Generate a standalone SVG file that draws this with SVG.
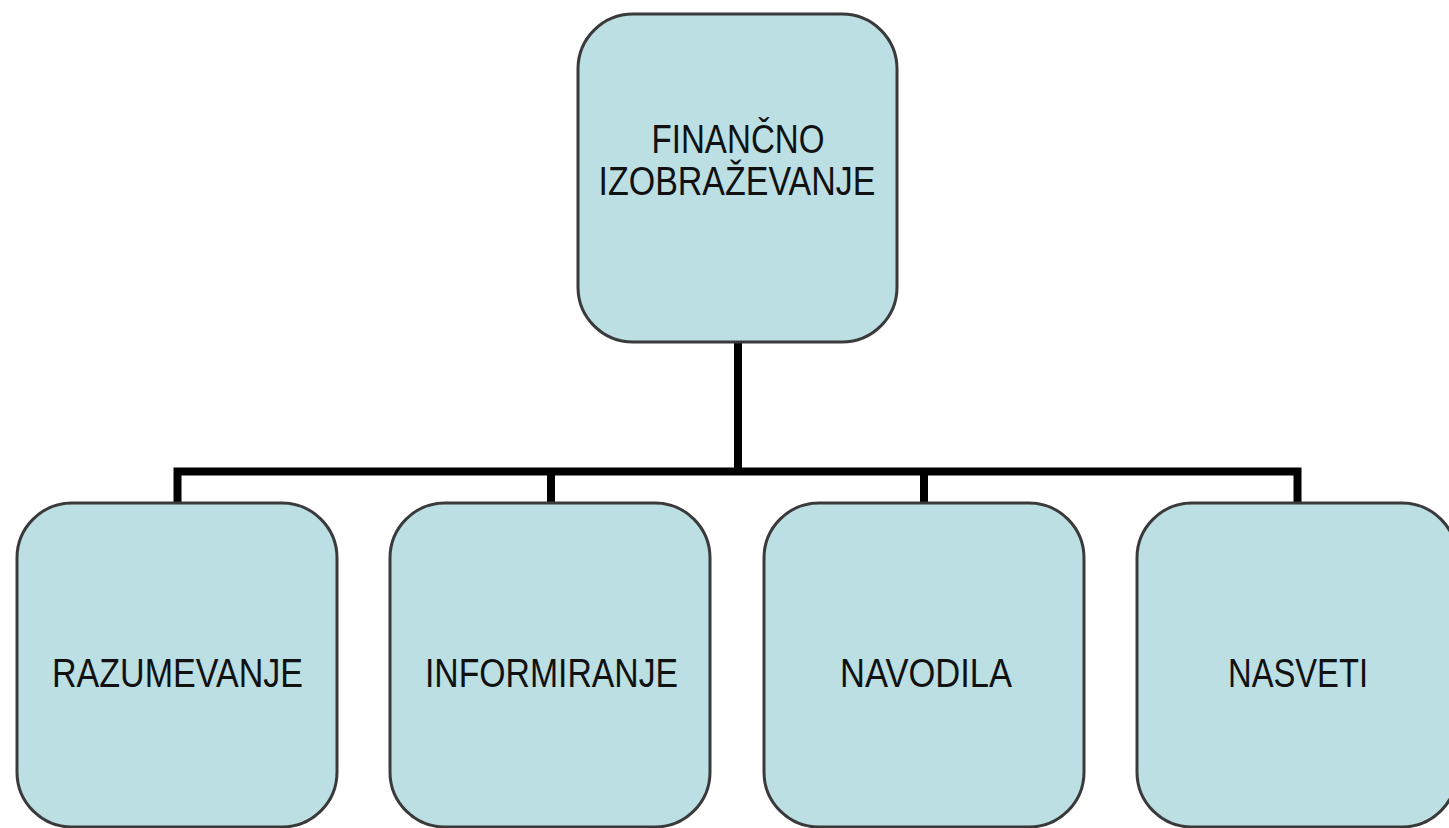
<svg xmlns="http://www.w3.org/2000/svg" width="1449" height="828" viewBox="0 0 1449 828">
<style>
.box{fill:#bbdfe3;stroke:#3a3a3a;stroke-width:3}
.lbl{font-family:"Liberation Sans Narrow","Liberation Sans",Arial,sans-serif;font-size:40px;fill:#111;text-anchor:middle}
.conn{fill:none;stroke:#000;stroke-width:8;stroke-linejoin:miter;stroke-linecap:butt}
</style>
<rect width="1449" height="828" fill="#fff"/>
<g id="connectors">
<path class="conn" d="M738 342 V471.5"/>
<path class="conn" d="M177.5 503 V471.5 H1297.5 V503"/>
<path class="conn" d="M551 471.5 V503"/>
<path class="conn" d="M924 471.5 V503"/>
</g>
<g id="n0">
<rect class="box" x="578" y="14" width="319" height="328" rx="55"/>
<text class="lbl" x="738" y="153" textLength="173" lengthAdjust="spacingAndGlyphs">FINANČNO</text>
<text class="lbl" x="737" y="195" textLength="277" lengthAdjust="spacingAndGlyphs">IZOBRAŽEVANJE</text>
</g>
<g id="n1">
<rect class="box" x="17" y="503" width="320" height="324" rx="55"/>
<text class="lbl" x="177.5" y="687" textLength="251" lengthAdjust="spacingAndGlyphs">RAZUMEVANJE</text>
</g>
<g id="n2">
<rect class="box" x="390" y="503" width="320" height="324" rx="55"/>
<text class="lbl" x="551.5" y="687" textLength="253" lengthAdjust="spacingAndGlyphs">INFORMIRANJE</text>
</g>
<g id="n3">
<rect class="box" x="764" y="503" width="320" height="324" rx="55"/>
<text class="lbl" x="926" y="687" textLength="172" lengthAdjust="spacingAndGlyphs">NAVODILA</text>
</g>
<g id="n4">
<rect class="box" x="1137" y="503" width="320" height="324" rx="55"/>
<text class="lbl" x="1298" y="687" textLength="140" lengthAdjust="spacingAndGlyphs">NASVETI</text>
</g>
</svg>
